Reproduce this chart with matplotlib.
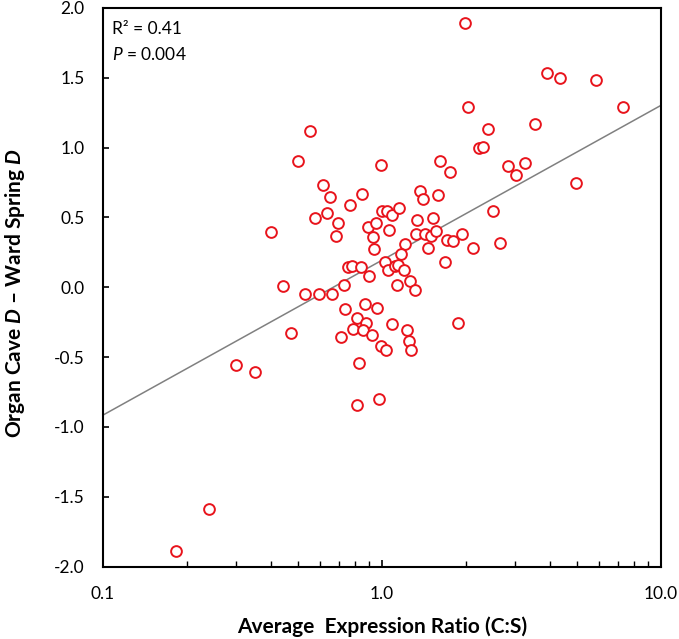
import matplotlib
matplotlib.use("Agg")
import matplotlib.pyplot as plt
from matplotlib.ticker import FixedLocator, NullFormatter
import numpy as np

# ---------------------------------------------
# DATA
# ---------------------------------------------
expr_ratio = [
    1.98, 3.89, 4.35, 5.87, 7.32, 2.04, 2.40, 3.54, 2.22, 2.31,
    1.62, 1.76, 2.83, 3.27, 3.02, 4.95, 0.99, 1.37, 1.59, 1.40,
    0.652, 0.846, 0.772, 0.637, 0.697, 0.683, 1.0, 1.045, 1.089, 1.153,
    0.889, 0.952, 1.065, 0.926, 0.939, 1.209, 1.167, 1.338, 1.523, 1.324,
    1.433, 1.498, 1.557, 1.465, 1.714, 1.80, 1.935, 2.51, 2.66, 2.12,
    1.68, 1.025, 1.053, 1.113, 1.144, 1.199, 0.757, 0.785, 0.839, 0.898,
    0.731, 1.26, 1.313, 1.129, 0.441, 0.530, 0.595, 0.664, 0.741, 0.869,
    0.962, 0.812, 0.881, 0.789, 0.857, 0.919, 1.083, 1.226, 1.253, 1.277,
    0.997, 1.033, 0.472, 0.713, 0.827, 1.867, 0.818, 0.973, 0.300, 0.352,
    0.240, 0.183, 0.555, 0.501, 0.613, 0.575, 0.3995,
]
d_diff = [
    1.896, 1.531, 1.50, 1.481, 1.293, 1.293, 1.136, 1.171, 0.998, 1.007,
    0.903, 0.826, 0.867, 0.893, 0.807, 0.746, 0.876, 0.688, 0.66, 0.631,
    0.646, 0.667, 0.586, 0.531, 0.46, 0.369, 0.55, 0.55, 0.519, 0.567,
    0.429, 0.46, 0.412, 0.36, 0.271, 0.31, 0.238, 0.481, 0.496, 0.381,
    0.381, 0.364, 0.403, 0.281, 0.341, 0.329, 0.379, 0.548, 0.319, 0.281,
    0.179, 0.181, 0.126, 0.15, 0.162, 0.126, 0.143, 0.155, 0.143, 0.084,
    0.014, 0.048, -0.016, 0.014, 0.012, -0.047, -0.047, -0.047, -0.155, -0.116,
    -0.147, -0.219, -0.254, -0.295, -0.302, -0.338, -0.266, -0.302, -0.381, -0.452,
    -0.421, -0.45, -0.326, -0.354, -0.54, -0.257, -0.843, -0.802, -0.554, -0.604,
    -1.588, -1.886, 1.121, 0.903, 0.736, 0.498, 0.398,
]

# linea de tendencia (extremos)
trend_x = [0.1, 10.0]
trend_y = [-0.916, 1.303]

x_ticks = [0.1, 1.0, 10.0]
x_tick_labels = ["0.1", "1.0", "10.0"]
y_ticks = [-2.0, -1.5, -1.0, -0.5, 0.0, 0.5, 1.0, 1.5, 2.0]

# ---------------------------------------------
# FIGURE
# ---------------------------------------------
plt.rcParams["font.family"] = ["Lato", "DejaVu Sans"]
plt.rcParams["mathtext.fontset"] = "custom"
plt.rcParams["mathtext.rm"] = "Lato"
plt.rcParams["mathtext.it"] = "Lato:italic"
plt.rcParams["mathtext.bf"] = "Lato:bold:italic"

fig = plt.figure(figsize=(6.79, 6.39), dpi=100)
ax = fig.add_axes([0.1512, 0.1132, 0.8223, 0.8743])

# linea de tendencia en escala log: interpolar en log10(x)
tx = np.logspace(np.log10(trend_x[0]), np.log10(trend_x[1]), 200)
ty = np.interp(np.log10(tx), np.log10(trend_x), trend_y)
ax.plot(tx, ty, color="#808080", linewidth=1.1, zorder=2)

ax.scatter(expr_ratio, d_diff, s=60, facecolors="white",
           edgecolors="#e8141c", linewidths=1.4, zorder=3)

ax.set_xscale("log")
ax.set_xlim(0.1, 10.0)
ax.set_ylim(-2.0, 2.0)

ax.xaxis.set_major_locator(FixedLocator(x_ticks))
ax.set_xticklabels(x_tick_labels)
minor = [m * d for d in (0.1, 1.0) for m in range(2, 10)]
ax.xaxis.set_minor_locator(FixedLocator(minor))
ax.xaxis.set_minor_formatter(NullFormatter())
ax.set_yticks(y_ticks)
ax.set_yticklabels([f"{v:.1f}" for v in y_ticks])

ax.tick_params(axis="x", which="major", direction="in", length=5, width=1.2,
               labelsize=12.5, pad=14, colors="black")
ax.tick_params(axis="x", which="minor", direction="in", length=4, width=1.0)
ax.tick_params(axis="y", which="major", direction="in", length=4, width=1.2,
               labelsize=12.5, pad=13)

for sp in ax.spines.values():
    sp.set_linewidth(1.5)
    sp.set_color("black")

ax.set_xlabel("Average  Expression Ratio (C:S)", fontsize=15,
              fontweight="bold", labelpad=10)
ax.set_ylabel(r"Organ Cave $\mathbf{D}$ – Ward Spring $\mathbf{D}$",
              fontsize=15, fontweight="bold")
ax.yaxis.set_label_coords(-0.136, 0.49)

ax.text(0.017, 0.963, "R² = 0.41", transform=ax.transAxes,
        fontsize=12.5, va="center", ha="left")
ax.text(0.017, 0.917, r"$P$ = 0.004", transform=ax.transAxes,
        fontsize=12.5, va="center", ha="left")

plt.savefig("out.png", dpi=100)
